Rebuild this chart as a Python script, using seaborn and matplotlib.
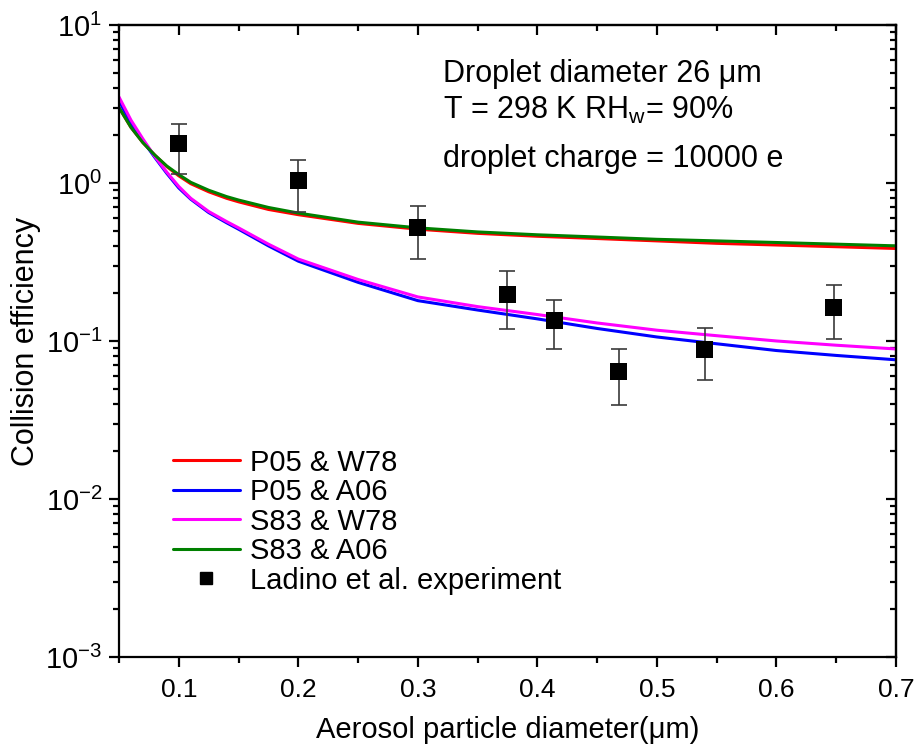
import numpy as np
import pandas as pd
import seaborn as sns
import matplotlib.pyplot as plt
from matplotlib.ticker import LogLocator, MultipleLocator, FuncFormatter, NullFormatter

# model curves
diam = [0.05, 0.06, 0.07, 0.08, 0.09, 0.1, 0.11, 0.125, 0.14, 0.15, 0.175, 0.2, 0.25, 0.3,
        0.35, 0.4, 0.45, 0.5, 0.55, 0.6, 0.65, 0.7]
p05_w78 = [3.0, 2.25, 1.8, 1.5, 1.27, 1.11, 0.99, 0.88, 0.80, 0.76, 0.68, 0.63, 0.555, 0.51,
           0.48, 0.46, 0.445, 0.43, 0.415, 0.405, 0.395, 0.385]
p05_a06 = [3.3, 2.4, 1.85, 1.45, 1.15, 0.93, 0.79, 0.65, 0.56, 0.51, 0.40, 0.32, 0.235, 0.18,
           0.157, 0.138, 0.12, 0.106, 0.096, 0.087, 0.081, 0.076]
s83_w78 = [3.5, 2.5, 1.9, 1.47, 1.17, 0.95, 0.80, 0.66, 0.57, 0.52, 0.41, 0.33, 0.245, 0.19,
           0.165, 0.147, 0.13, 0.117, 0.108, 0.1, 0.094, 0.089]
s83_a06 = [3.0, 2.25, 1.8, 1.5, 1.28, 1.13, 1.01, 0.90, 0.82, 0.78, 0.70, 0.645, 0.565, 0.52,
           0.49, 0.47, 0.455, 0.44, 0.43, 0.42, 0.41, 0.40]

# Ladino et al. experiment
exp_x = [0.1, 0.2, 0.3, 0.375, 0.414, 0.468, 0.54, 0.648]
exp_y = [1.77, 1.03, 0.52, 0.197, 0.135, 0.064, 0.0885, 0.164]
exp_hi = [2.36, 1.40, 0.71, 0.276, 0.181, 0.089, 0.120, 0.226]
exp_lo = [1.14, 0.655, 0.332, 0.119, 0.089, 0.0394, 0.0566, 0.103]

labels = ["P05 & W78", "P05 & A06", "S83 & W78", "S83 & A06"]
colors = ["#ff0000", "#0000ff", "#ff00ff", "#008000"]

rows = []
for lab, vals in zip(labels, [p05_w78, p05_a06, s83_w78, s83_a06]):
    for x, y in zip(diam, vals):
        rows.append({"d": x, "eff": y, "model": lab})
df = pd.DataFrame(rows)

sns.set_style("ticks")
plt.rcParams['font.family'] = ['Liberation Sans', 'DejaVu Sans']
plt.rcParams['mathtext.fontset'] = 'custom'
plt.rcParams['mathtext.rm'] = 'Liberation Sans'
plt.rcParams['mathtext.it'] = 'Liberation Sans'
plt.rcParams['text.color'] = 'black'
plt.rcParams['axes.labelcolor'] = 'black'

fig = plt.figure(figsize=(9.14, 7.48), dpi=100)
ax = fig.add_axes([0.1302, 0.1217, 0.8501, 0.8449])

sns.lineplot(data=df, x="d", y="eff", hue="model", hue_order=labels,
             palette=dict(zip(labels, colors)), linewidth=2.2, ax=ax, legend=False)

yerr = [np.array(exp_y) - np.array(exp_lo), np.array(exp_hi) - np.array(exp_y)]
ax.errorbar(exp_x, exp_y, yerr=yerr, fmt="none", ecolor="#3a3a3a",
            elinewidth=1.2, capsize=6, capthick=1.2, zorder=3)
sns.scatterplot(x=exp_x, y=exp_y, marker="s", s=150, color="black",
                edgecolor="none", ax=ax, zorder=4)

ax.set_yscale("log")
ax.set_xlim(0.05, 0.7)
ax.set_ylim(1e-3, 10)

ax.xaxis.set_major_locator(MultipleLocator(0.1))
ax.xaxis.set_minor_locator(MultipleLocator(0.05))
ax.yaxis.set_major_locator(LogLocator(base=10, numticks=10))
ax.yaxis.set_minor_locator(LogLocator(base=10, subs=np.arange(2, 10), numticks=10))
ax.yaxis.set_minor_formatter(NullFormatter())
ax.yaxis.set_major_formatter(FuncFormatter(lambda v, p: r"$10^{%d}$" % int(round(np.log10(v)))))
ax.xaxis.set_major_formatter(FuncFormatter(lambda v, p: "%.1f" % v))

for s in ax.spines.values():
    s.set_linewidth(1.6)
    s.set_color("black")
ax.tick_params(axis="both", which="major", length=7, width=1.6,
               color="black", labelcolor="black")
ax.tick_params(axis="x", which="major", labelsize=19, pad=8)
ax.tick_params(axis="y", which="major", labelsize=21, pad=5)
ax.tick_params(axis="both", which="minor", length=4, width=1.6, color="black")
ax.tick_params(axis="both", which="both", direction="out")

# mirrored ticks on top and right, pointing inward
axt = ax.secondary_xaxis("top")
axt.xaxis.set_major_locator(MultipleLocator(0.1))
axt.xaxis.set_minor_locator(MultipleLocator(0.05))
axt.tick_params(which="major", direction="in", length=7, width=1.6, labeltop=False, color="black")
axt.tick_params(which="minor", direction="in", length=4, width=1.6, color="black")
axt.spines["top"].set_linewidth(1.6)
axr = ax.secondary_yaxis("right")
axr.yaxis.set_major_locator(LogLocator(base=10, numticks=10))
axr.yaxis.set_minor_locator(LogLocator(base=10, subs=np.arange(2, 10), numticks=10))
axr.yaxis.set_minor_formatter(NullFormatter())
axr.tick_params(which="major", direction="in", length=7, width=1.6, labelright=False, color="black")
axr.tick_params(which="minor", direction="in", length=4, width=1.6, color="black")
axr.spines["right"].set_linewidth(1.6)

ax.set_xlabel("Aerosol particle diameter(μm)", fontsize=21, labelpad=10)
ax.set_ylabel("Collision efficiency", fontsize=22, labelpad=3)

ax.text(0.417, 0.910, "Droplet diameter 26 μm", transform=ax.transAxes,
        fontsize=22, va="baseline")
ax.text(0.417, 0.851, r"T = 298 K RH$_{\mathrm{w}}$= 90%", transform=ax.transAxes,
        fontsize=22, va="baseline")
ax.text(0.417, 0.775, "droplet charge = 10000 e", transform=ax.transAxes,
        fontsize=22, va="baseline")

handles = [plt.Line2D([], [], color=c, lw=2.2) for c in colors]
handles.append(plt.Line2D([], [], color="black", marker="s", ls="none", markersize=9))
ax.legend(handles, labels + ["Ladino et al. experiment"], loc="upper left",
          bbox_to_anchor=(0.054, 0.348), frameon=False, fontsize=21,
          handlelength=2.3, handletextpad=0.35, labelspacing=0.05, borderaxespad=0)

fig.savefig("out.png", dpi=100)
